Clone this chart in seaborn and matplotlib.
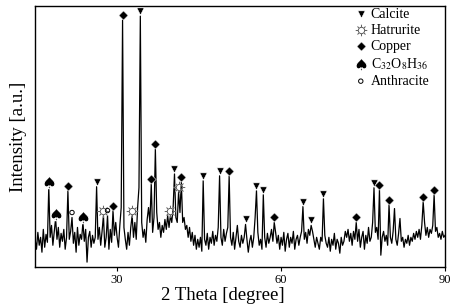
import numpy as np
import pandas as pd
import matplotlib
matplotlib.use("Agg")
import matplotlib.pyplot as plt
import seaborn as sns

# 2-theta grid: 15 -> 90 deg, step 0.25
theta_start, theta_step = 15.0, 0.25
intensity = [
    28, 18, 35, 22, 30, 15, 38, 20, 33, 25, 81, 30, 42, 22, 36, 49, 28, 40, 20, 34,
    26, 38, 18, 30, 77, 28, 36, 50, 24, 35, 15, 40, 22, 33, 28, 45, 26, 38, 5, 30,
    36, 20, 32, 24, 30, 81, 28, 40, 22, 36, 52, 20, 30, 52, 18, 38, 25, 57, 32, 45,
    30, 20, 42, 60, 249, 40, 28, 18, 35, 22, 40, 52, 30, 45, 28, 60, 80, 253, 45, 30,
    38, 25, 48, 60, 45, 84, 35, 50, 119, 55, 38, 45, 30, 42, 35, 48, 38, 52, 40, 52,
    45, 60, 94, 50, 45, 76, 55, 86, 45, 50, 38, 42, 30, 40, 26, 35, 22, 32, 18, 28,
    20, 30, 16, 87, 28, 22, 34, 18, 30, 24, 36, 22, 32, 26, 40, 92, 30, 22, 38, 26,
    34, 40, 92, 30, 22, 35, 18, 30, 42, 26, 20, 32, 24, 30, 43, 28, 15, 26, 32, 20,
    30, 50, 77, 35, 22, 28, 18, 73, 30, 20, 34, 24, 30, 38, 26, 45, 35, 24, 32, 18,
    30, 22, 35, 16, 28, 34, 20, 30, 24, 36, 18, 28, 32, 22, 30, 36, 61, 28, 35, 24,
    38, 32, 42, 36, 28, 20, 30, 24, 18, 30, 26, 69, 32, 24, 20, 30, 16, 28, 22, 34,
    18, 28, 24, 14, 30, 22, 26, 36, 30, 38, 26, 34, 22, 36, 28, 45, 26, 38, 20, 30,
    36, 18, 32, 24, 40, 26, 30, 45, 80, 35, 40, 28, 78, 12, 30, 36, 26, 32, 22, 63,
    30, 24, 36, 59, 28, 22, 34, 49, 26, 30, 20, 28, 24, 32, 22, 30, 26, 34, 28, 36,
    30, 38, 28, 42, 66, 45, 32, 40, 30, 38, 34, 42, 73, 36, 40, 30, 34, 28, 36, 30,
    32,
]
theta = theta_start + theta_step * np.arange(len(intensity))

# Phase identification (peak positions, deg)
calcite = [26.25, 34.25, 40.5, 45.75, 48.75, 53.5, 55.5, 56.75, 64.0, 65.5, 67.75, 77.0]
hatrurite = [27.5, 32.75, 39.75, 41.25]
copper = [21.0, 29.25, 31.0, 36.25, 37.0, 41.75, 50.5, 58.75, 73.75, 78.0, 79.75, 86.0, 88.0]
c32 = [17.5, 18.75, 23.75]
anthracite = [21.75, 28.25]

df = pd.DataFrame({"theta": theta, "I": intensity})

plt.rcParams["font.family"] = ["Liberation Serif", "DejaVu Sans"]
plt.rcParams["mathtext.fontset"] = "stix"
fig = plt.figure(figsize=(4.56, 3.07), dpi=100)
ax = fig.add_axes([0.077, 0.130, 0.899, 0.850])

sns.lineplot(data=df, x="theta", y="I", ax=ax, color="black", lw=0.9)

def peak_y(pos, off=5):
    return [np.interp(p, theta, intensity) + off for p in pos]

phases = [
    ("Calcite", calcite, dict(marker="v", s=28, color="black")),
    ("Hatrurite", hatrurite, dict(marker="$\u263c$", s=70, color="#333333", linewidths=0.2)),
    ("Copper", copper, dict(marker="D", s=22, color="black")),
    ("C$_{32}$O$_{8}$H$_{36}$", c32, dict(marker="$\u2660$", s=80, color="black")),
    ("Anthracite", anthracite, dict(marker="o", s=10, facecolors="none", edgecolors="black", linewidths=0.7)),
]
for name, pos, kw in phases:
    sns.scatterplot(x=pos, y=peak_y(pos), ax=ax, label=name, zorder=5, clip_on=False, **kw)

ax.set_xlim(15, 90)
ax.set_ylim(0, 263)
ax.set_xticks([30, 60, 90])
ax.set_yticks([])
ax.tick_params(axis="x", direction="out", length=3, width=0.8, labelsize=9, pad=2)
ax.set_xlabel("2 Theta [degree]", fontsize=13.5, labelpad=1)
ax.xaxis.set_label_coords(0.457, -0.075)
ax.set_ylabel("Intensity [a.u.]", fontsize=13.5, labelpad=6)
for sp in ax.spines.values():
    sp.set_linewidth(1.0)
    sp.set_color("black")

leg = ax.legend(loc="upper right", bbox_to_anchor=(0.975, 1.015), frameon=False,
                fontsize=10, handletextpad=0.2, labelspacing=0.22, borderaxespad=0.0,
                handlelength=1.0)

fig.savefig("out.png", dpi=100)
